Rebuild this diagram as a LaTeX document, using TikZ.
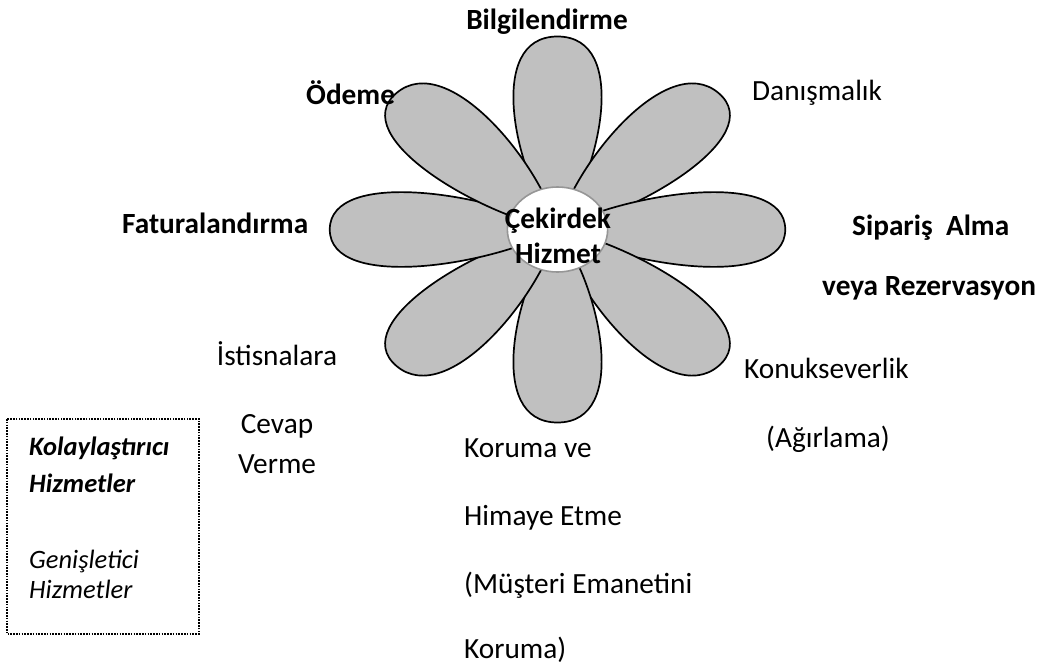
\documentclass[tikz,border=0pt]{standalone}
\usepackage{fontspec}
\setmainfont{Carlito}
\begin{document}
\begin{tikzpicture}[x=1pt,y=-1pt,
  petal/.style={fill={rgb,255:red,192;green,192;blue,192}, draw=black, line width=1.7pt, line join=round},
  hub/.style={fill=white, draw={rgb,255:red,150;green,150;blue,150}, line width=1.6pt},
  lbl/.style={font=\fontsize{29.3}{35}\selectfont, inner sep=0pt},
  blbl/.style={font=\fontsize{29.3}{35}\selectfont\bfseries, inner sep=0pt},
  boxlbl/.style={font=\fontsize{26.5}{32}\selectfont\itshape, inner sep=0pt},
  bboxlbl/.style={font=\fontsize{26.5}{32}\selectfont\bfseries\itshape, inner sep=0pt},
  legend/.style={draw=black, line width=1.3pt, dash pattern=on 1.6pt off 1.2pt}]
\useasboundingbox (0,0) rectangle (1044,667);

% the flower: eight petals around the core
\begin{scope}[shift={(557.5,229.5)}, xscale=1.18]
  \foreach \a in {90,45,0,-45,-90,-135,180,135}{
    \filldraw[petal, rotate=\a] (0,0) .. controls (55,36) and (193,62) .. (193,0)
      .. controls (193,-62) and (55,-36) .. (0,0);
  }
  \filldraw[hub] (0,0) circle (42.5);
\end{scope}

% core service
\node[blbl, anchor=base] (core1) at (558,228) {Çekirdek};
\node[blbl, anchor=base] (core2) at (558,263) {Hizmet};

% petal labels
\node[blbl, anchor=base] (bilgi) at (547,29) {Bilgilendirme};
\node[blbl, anchor=base west] (odeme) at (306,104) {Ödeme};
\node[lbl, anchor=base west] (danis) at (752,100) {Danışmalık};
\node[blbl, anchor=base west] (sip1) at (852,235) {Sipariş\ \ Alma};
\node[blbl, anchor=base west] (sip2) at (822,295) {veya Rezervasyon};
\node[blbl, anchor=base west] (fatura) at (122,233) {Faturalandırma};
\node[lbl, anchor=base] (ist1) at (277,365) {İstisnalara};
\node[lbl, anchor=base] (ist2) at (277,433) {Cevap};
\node[lbl, anchor=base] (ist3) at (277,473) {Verme};
\node[lbl, anchor=base west] (kor1) at (464,457) {Koruma ve};
\node[lbl, anchor=base west] (kor2) at (464,525) {Himaye Etme};
\node[lbl, anchor=base west] (kor3) at (464,593) {(Müşteri Emanetini};
\node[lbl, anchor=base west] (kor4) at (464,658) {Koruma)};
\node[lbl, anchor=base west] (konuk1) at (744,378) {Konukseverlik};
\node[lbl, anchor=base west] (konuk2) at (766,447) {(Ağırlama)};

% legend box
\draw[legend] (7,419) rectangle (199,634);
\node[bboxlbl, anchor=base west] (leg1) at (29,455) {Kolaylaştırıcı};
\node[bboxlbl, anchor=base west] (leg2) at (29,492) {Hizmetler};
\node[boxlbl, anchor=base west] (leg3) at (29,568) {Genişletici};
\node[boxlbl, anchor=base west] (leg4) at (29,598) {Hizmetler};
\end{tikzpicture}
\end{document}
